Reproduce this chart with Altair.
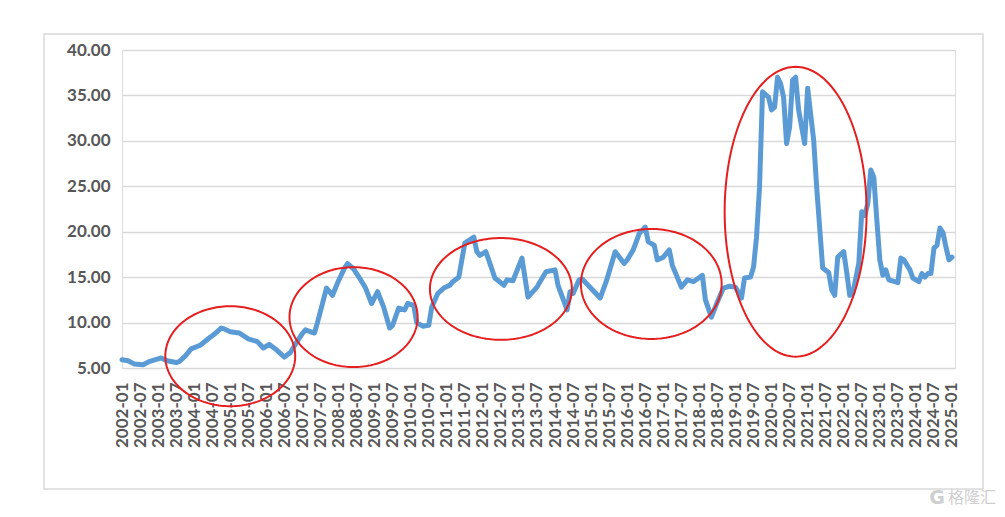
import altair as alt
import numpy as np
import pandas as pd

# ---- data ----
months = [
    "2002-01", "2002-03", "2002-05", "2002-08", "2002-10", "2003-01", "2003-02", "2003-04", "2003-07", "2003-08",
    "2003-10", "2003-12", "2004-03", "2004-06", "2004-08", "2004-10", "2004-11", "2005-01", "2005-04", "2005-07",
    "2005-10", "2005-12", "2006-02", "2006-04", "2006-07", "2006-09", "2006-11", "2007-01", "2007-02", "2007-05",
    "2007-06", "2007-09", "2007-11", "2008-01", "2008-03", "2008-04", "2008-06", "2008-08", "2008-10", "2008-12",
    "2009-02", "2009-04", "2009-06", "2009-07", "2009-09", "2009-11", "2009-12", "2010-02", "2010-03", "2010-05",
    "2010-07", "2010-08", "2010-10", "2010-12", "2011-02", "2011-03", "2011-05", "2011-07", "2011-10", "2011-11",
    "2011-12", "2012-02", "2012-05", "2012-08", "2012-09", "2012-11", "2013-02", "2013-04", "2013-07", "2013-08",
    "2013-10", "2014-01", "2014-02", "2014-05", "2014-06", "2014-07", "2014-09", "2014-10", "2014-12", "2015-04",
    "2015-06", "2015-09", "2015-12", "2016-01", "2016-03", "2016-05", "2016-07", "2016-08", "2016-10", "2016-11",
    "2017-01", "2017-03", "2017-04", "2017-07", "2017-09", "2017-11", "2018-02", "2018-03", "2018-05", "2018-07",
    "2018-09", "2018-11", "2019-01", "2019-03", "2019-04", "2019-06", "2019-07", "2019-08", "2019-09", "2019-10",
    "2019-12", "2020-01", "2020-02", "2020-03", "2020-04", "2020-05", "2020-06", "2020-07", "2020-08", "2020-09",
    "2020-10", "2020-12", "2021-01", "2021-03", "2021-04", "2021-06", "2021-08", "2021-09", "2021-10", "2021-11",
    "2022-01", "2022-02", "2022-03", "2022-04", "2022-06", "2022-07", "2022-08", "2022-09", "2022-10", "2022-11",
    "2022-12", "2023-01", "2023-02", "2023-03", "2023-04", "2023-06", "2023-07", "2023-08", "2023-09", "2023-11",
    "2023-12", "2024-02", "2024-03", "2024-04", "2024-05", "2024-06", "2024-07", "2024-08", "2024-09", "2024-10",
    "2024-11", "2024-12", "2025-01",
]
pe = [
    5.9, 5.8, 5.45, 5.35, 5.7, 6.0, 6.1, 5.8, 5.6, 5.7,
    6.3, 7.1, 7.5, 8.3, 8.8, 9.4, 9.3, 9.0, 8.85, 8.2,
    7.9, 7.2, 7.6, 7.1, 6.2, 6.7, 7.8, 8.8, 9.2, 8.85,
    10.0, 13.8, 13.0, 14.6, 16.0, 16.5, 15.9, 14.9, 13.8, 12.1,
    13.4, 11.7, 9.4, 9.7, 11.6, 11.4, 12.1, 11.9, 10.0, 9.6,
    9.7, 11.7, 13.2, 13.8, 14.1, 14.5, 15.0, 18.75, 19.4, 17.8,
    17.4, 17.8, 14.9, 14.1, 14.7, 14.6, 17.1, 12.8, 13.9, 14.5,
    15.6, 15.8, 14.1, 11.4, 13.4, 13.2, 14.7, 14.8, 14.1, 12.7,
    14.5, 17.8, 16.5, 16.9, 18.0, 19.8, 20.5, 18.9, 18.5, 16.9,
    17.2, 18.0, 16.3, 13.9, 14.7, 14.5, 15.2, 12.5, 10.6, 12.3,
    13.8, 14.0, 13.9, 12.7, 14.9, 15.0, 16.1, 19.4, 24.9, 35.4,
    34.8, 33.4, 33.7, 37.0, 36.3, 34.8, 29.7, 31.5, 36.7, 37.0,
    33.4, 29.7, 35.8, 30.1, 24.9, 16.0, 15.5, 13.6, 13.0, 17.2,
    17.8, 15.5, 13.0, 13.2, 16.5, 22.2, 21.8, 23.1, 26.8, 26.0,
    21.3, 16.9, 15.2, 15.8, 14.7, 14.5, 14.4, 17.1, 16.9, 15.8,
    14.9, 14.5, 15.4, 15.0, 15.4, 15.4, 18.2, 18.5, 20.4, 19.9,
    18.3, 16.9, 17.2,
]

y_ticks = [5, 10, 15, 20, 25, 30, 35, 40]

# red annotation ellipses: centre (month, value) and half-sizes (months, value units)
ell_centre_month = ["2005-01", "2008-06", "2012-07", "2016-09", "2020-09"]
ell_centre_value = [6.3, 10.6, 13.7, 14.25, 22.2]
ell_half_months = [21.6, 21.3, 23.6, 23.4, 23.6]
ell_half_value = [5.5, 5.5, 5.6, 6.05, 15.95]


def month_index(s):
    y, m = s.split("-")
    return (int(y) - 2002) * 12 + int(m) - 1


df = pd.DataFrame({"m": [month_index(s) for s in months], "v": pe})

rows = []
t = np.linspace(0, 2 * np.pi, 181)
for i in range(len(ell_centre_month)):
    cx = month_index(ell_centre_month[i])
    for k, tt in enumerate(t):
        rows.append({"id": i, "o": k,
                     "m": cx + ell_half_months[i] * np.cos(tt),
                     "v": ell_centre_value[i] + ell_half_value[i] * np.sin(tt)})
ell = pd.DataFrame(rows)

W, H = 833, 318
FONT = "Lato"
GREY = "#575757"

xscale = alt.Scale(domain=[0, 277], nice=False, zero=False)
yscale = alt.Scale(domain=[5, 40], nice=False, zero=False)

xaxis = alt.Axis(
    values=list(range(0, 277, 6)),
    labelExpr="(2002 + floor(datum.value / 12)) + '-' + (datum.value % 12 == 0 ? '01' : '07')",
    labelAngle=-90, labelFont=FONT, labelFontSize=17, labelFontWeight="bold",
    labelColor=GREY, ticks=False, domain=False, grid=False, labelPadding=14,
    title=None, labelOverlap=False, labelBound=False,
)
yaxis = alt.Axis(
    values=y_ticks, format=".2f", labelFont=FONT, labelFontSize=17,
    labelFontWeight="bold", labelColor=GREY, ticks=False, domain=False,
    grid=True, gridColor="#D9D9D9", gridWidth=1.5, labelPadding=12, title=None,
    labelOverlap=False,
)

line = alt.Chart(df).mark_line(
    color="#5B9BD5", strokeWidth=5, strokeJoin="round", strokeCap="round"
).encode(
    x=alt.X("m:Q", scale=xscale, axis=xaxis),
    y=alt.Y("v:Q", scale=yscale, axis=yaxis),
)

ellipses = alt.Chart(ell).mark_line(color="#E51F1F", strokeWidth=2).encode(
    x=alt.X("m:Q", scale=xscale, axis=xaxis),
    y=alt.Y("v:Q", scale=yscale, axis=yaxis),
    detail="id:N",
    order="o:Q",
)

frame = alt.Chart(pd.DataFrame({"a": [0]})).mark_rect(
    fill=None, stroke="#D9D9D9", strokeWidth=1.5
).encode(x=alt.value(-78), x2=alt.value(861), y=alt.value(-16), y2=alt.value(439))

wm_logo = alt.Chart(pd.DataFrame({"a": [0]})).mark_text(
    text="G", font="DejaVu Sans", fontSize=19, fontWeight="bold", color="#CFCFCF",
    align="center", baseline="middle"
).encode(x=alt.value(815), y=alt.value(448))
wm_text = alt.Chart(pd.DataFrame({"a": [0]})).mark_text(
    text="格隆汇", font="Noto Sans CJK SC", fontSize=16, color="#CFCFCF",
    align="left", baseline="middle"
).encode(x=alt.value(826), y=alt.value(448))

chart = alt.layer(line, ellipses, frame, wm_logo, wm_text).properties(
    width=W, height=H,
    padding={"left": 114, "top": 42, "right": 42, "bottom": 140},
    autosize=alt.AutoSizeParams(type="none"),
).configure_view(strokeWidth=0, stroke="transparent").configure_axis(
    labelOverlap=False
).configure(background="white")

chart.save("out.html", embed_options={"renderer": "svg", "actions": False})
